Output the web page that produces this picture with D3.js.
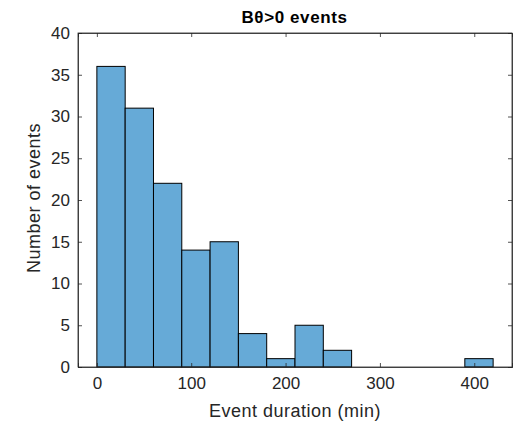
<!DOCTYPE html>
<html><head><meta charset="utf-8">
<script src="https://cdn.jsdelivr.net/npm/d3@7"></script>
<style>body{margin:0;background:#fff}text{font-family:"Liberation Sans",Arial,sans-serif}</style>
</head><body><svg id="c" width="521" height="424"></svg>
<script>
const binStarts = [0,30,60,90,120,150,180,210,240,270,300,330,360,390];
const binWidth = 30;
const counts = [36,31,22,14,15,4,1,5,2,0,0,0,0,1];
const xTicks = [0,100,200,300,400];
const yTicks = [0,5,10,15,20,25,30,35,40];
const title = "Bθ>0 events";
const xLabel = "Event duration (min)";
const yLabel = "Number of events";

const svg = d3.select("#c");
const L=78, R=512, T=33, B=367;
const x = d3.scaleLinear().domain([-20,440]).range([L,R]);
const y = d3.scaleLinear().domain([0,40]).range([B,T]);
const col="#262626";

svg.append("g").selectAll("rect").data(binStarts.map((s,i)=>({s,c:counts[i]})).filter(d=>d.c>0))
  .join("rect")
  .attr("x",d=>x(d.s)).attr("width",d=>x(d.s+binWidth)-x(d.s))
  .attr("y",d=>y(d.c)).attr("height",d=>y(0)-y(d.c))
  .attr("fill","#66AAD7").attr("stroke","#000").attr("stroke-width",1);

const ax = svg.append("g").attr("transform",`translate(0,${B})`)
  .call(d3.axisBottom(x).tickValues(xTicks).tickSize(-4).tickPadding(10));
const axT = svg.append("g").attr("transform",`translate(0,${T})`)
  .call(d3.axisTop(x).tickValues(xTicks).tickSize(-4).tickFormat(""));
const ay = svg.append("g").attr("transform",`translate(${L},0)`)
  .call(d3.axisLeft(y).tickValues(yTicks).tickSize(-4).tickPadding(8));
const ayR = svg.append("g").attr("transform",`translate(${R},0)`)
  .call(d3.axisRight(y).tickValues(yTicks).tickSize(-4).tickFormat(""));
[ax,axT,ay,ayR].forEach(g=>{
  g.selectAll(".domain").attr("stroke",col).attr("stroke-width",0.8);
  g.selectAll(".tick line").attr("stroke",col).attr("stroke-width",0.8);
  g.selectAll("text").attr("fill",col).style("font-size","17px");
});
svg.append("rect").attr("x",L).attr("y",T).attr("width",R-L).attr("height",B-T)
  .attr("fill","none").attr("stroke",col).attr("stroke-width",0.8);

svg.append("text").attr("x",294.5).attr("y",23).attr("text-anchor","middle")
  .style("font-size","17px").style("font-weight","bold").style("letter-spacing","0.6px").attr("fill","#000").text(title);
svg.append("text").attr("x",(L+R)/2).attr("y",417).attr("text-anchor","middle")
  .style("font-size","18px").style("letter-spacing","0.5px").attr("fill",col).text(xLabel);
svg.append("text").attr("transform",`translate(40,198) rotate(-90)`).attr("text-anchor","middle")
  .style("font-size","18px").style("letter-spacing","0.5px").attr("fill",col).text(yLabel);
</script></body></html>
